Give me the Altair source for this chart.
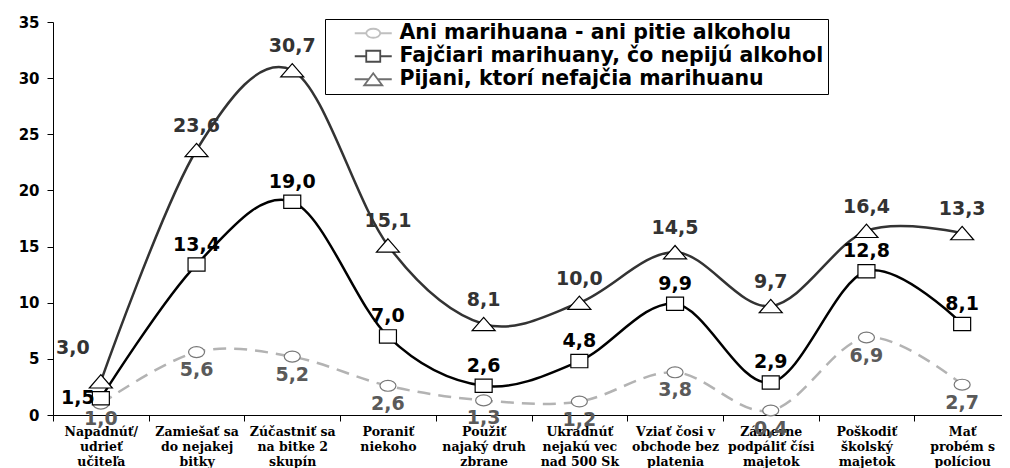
import altair as alt
import pandas as pd

categories = [
    "Napadnúť/\nudrieť\nučiteľa",
    "Zamiešať sa\ndo nejakej\nbitky",
    "Zúčastniť sa\nna bitke 2\nskupín",
    "Poraniť\nniekoho",
    "Použiť\nnajaký druh\nzbrane",
    "Ukradnúť\nnejakú vec\nnad 500 Sk",
    "Vziať čosi v\nobchode bez\nplatenia",
    "Zámerne\npodpáliť čísi\nmajetok",
    "Poškodiť\nškolský\nmajetok",
    "Mať\nprobém s\npolíciou",
]

series_names = [
    "Ani marihuana - ani pitie alkoholu",
    "Fajčiari marihuany, čo nepijú alkohol",
    "Pijani, ktorí nefajčia marihuanu",
]

ani_values = [1.0, 5.6, 5.2, 2.6, 1.3, 1.2, 3.8, 0.4, 6.9, 2.7]
faj_values = [1.5, 13.4, 19.0, 7.0, 2.6, 4.8, 9.9, 2.9, 12.8, 8.1]
pij_values = [3.0, 23.6, 30.7, 15.1, 8.1, 10.0, 14.5, 9.7, 16.4, 16.2]

ani_labels = ["1,0", "5,6", "5,2", "2,6", "1,3", "1,2", "3,8", "0,4", "6,9", "2,7"]
faj_labels = ["1,5", "13,4", "19,0", "7,0", "2,6", "4,8", "9,9", "2,9", "12,8", "8,1"]
pij_labels = ["3,0", "23,6", "30,7", "15,1", "8,1", "10,0", "14,5", "9,7", "16,4", "13,3"]


def frame(values, labels):
    return pd.DataFrame({
        "cat": categories,
        "value": values,
        "label": labels,
        "idx": list(range(len(categories))),
    })


X = alt.X(
    "cat:N",
    sort=categories,
    scale=alt.Scale(type="band", range=[0, 957], paddingInner=0, paddingOuter=0),
    axis=alt.Axis(
        title=None,
        labelAngle=0,
        tickBand="extent",
        tickSize=6,
        tickColor="black",
        domainColor="black",
        labelExpr="split(datum.label, '\\n')",
        labelFont="DejaVu Serif",
        labelFontWeight="bold",
        labelFontSize=12.5,
        labelLineHeight=15,
        labelColor="black",
        labelPadding=4,
        labelOverlap=False,
        labelLimit=300,
        labelBaseline="top",
    ),
)
Y = alt.Y(
    "value:Q",
    scale=alt.Scale(domain=[0, 35], nice=False),
    axis=alt.Axis(
        title=None,
        values=[0, 5, 10, 15, 20, 25, 30, 35],
        grid=False,
        tickSize=6,
        tickColor="black",
        domainColor="black",
        labelFont="DejaVu Sans",
        labelFontWeight="bold",
        labelFontSize=15,
        labelColor="black",
        labelPadding=8,
    ),
)

ellipse = "M-1,0 A1,0.68 0 1,0 1,0 A1,0.68 0 1,0 -1,0 Z"
square = "M-1,-0.78 L1,-0.78 L1,0.78 L-1,0.78 Z"
triangle = "M0,-0.58 L1,0.58 L-1,0.58 Z"

specs = [
    # values, labels, line color, dash, marker, size, marker stroke, label color, dy, first dx, first dy
    (ani_values, ani_labels, "#b3b3b3", [13, 8], ellipse, 256, "#777777", "#5a5a5a", 18, 0, 15),
    (faj_values, faj_labels, "#000000", None, square, 289, "#000000", "#000000", -20, -23, 0),
    (pij_values, pij_labels, "#333333", None, triangle, 529, "#000000", "#333333", -24, -28, -33),
]

lines, points, texts = [], [], []
for vals, labs, col, dash, shp, sz, mcol, lcol, dy, fdx, fdy in specs:
    base = alt.Chart(frame(vals, labs))
    lkw = dict(interpolate="cardinal", stroke=col, strokeWidth=2.5)
    if dash:
        lkw["strokeDash"] = dash
    lines.append(base.mark_line(**lkw).encode(x=X, y=Y))
    points.append(
        base.mark_point(shape=shp, size=sz, filled=False, fill="white",
                        stroke=mcol, strokeWidth=1.2, opacity=1).encode(x=X, y=Y)
    )
    texts.append(
        base.mark_text(font="DejaVu Sans", fontWeight="bold", fontSize=19,
                       color=lcol, dy=dy, baseline="middle")
        .encode(x=X, y=Y, text="label:N")
        .transform_filter("datum.idx > 0")
    )
    texts.append(
        base.mark_text(font="DejaVu Sans", fontWeight="bold", fontSize=19,
                       color=lcol, dx=fdx, dy=fdy, baseline="middle")
        .encode(x=X, y=Y, text="label:N")
        .transform_filter("datum.idx == 0")
    )

legend_paths = [
    "M-3.7,0 L-1.4,0 M1.4,0 L3.7,0 M-1.4,0 A1.4,0.9 0 1,0 1.4,0 A1.4,0.9 0 1,0 -1.4,0 Z",
    "M-3.7,0 L-1.4,0 M1.4,0 L3.7,0 M-1.4,-1.1 L1.4,-1.1 L1.4,1.1 L-1.4,1.1 Z",
    "M-3.7,0 L-0.9,0 M0.9,0 L3.7,0 M0,-1.2 L1.8,1.2 L-1.8,1.2 Z",
]
legend_colors = ["#a6a6a6", "#000000", "#333333"]

leg = alt.Legend(
    title=None,
    orient="none",
    legendX=272,
    legendY=-3,
    labelFont="DejaVu Sans",
    labelFontWeight="bold",
    labelFontSize=20.5,
    labelColor="black",
    labelLimit=700,
    symbolSize=100,
    symbolStrokeWidth=1.8,
    symbolFillColor="white",
    symbolOffset=34,
    labelOffset=16,
    rowPadding=2,
    padding=4,
    strokeColor="black",
)

legend_df = pd.DataFrame({"series": series_names})
legend_layer = (
    alt.Chart(legend_df)
    .mark_point(filled=False, fill="white", strokeWidth=1.8, size=100)
    .encode(
        color=alt.Color("series:N", scale=alt.Scale(domain=series_names, range=legend_colors), legend=leg),
        shape=alt.Shape("series:N", scale=alt.Scale(domain=series_names, range=legend_paths), legend=leg),
    )
    .transform_filter("false")
)

chart = (
    alt.layer(*lines, *points, *texts, legend_layer)
    .properties(
        width=949,
        height=393,
        autosize=alt.AutoSizeParams(type="none"),
        padding={"left": 45, "top": 14, "right": 0, "bottom": 56},
    )
    .configure_view(stroke=None)
)

chart.save("out.html", embed_options={"renderer": "svg", "actions": False})
